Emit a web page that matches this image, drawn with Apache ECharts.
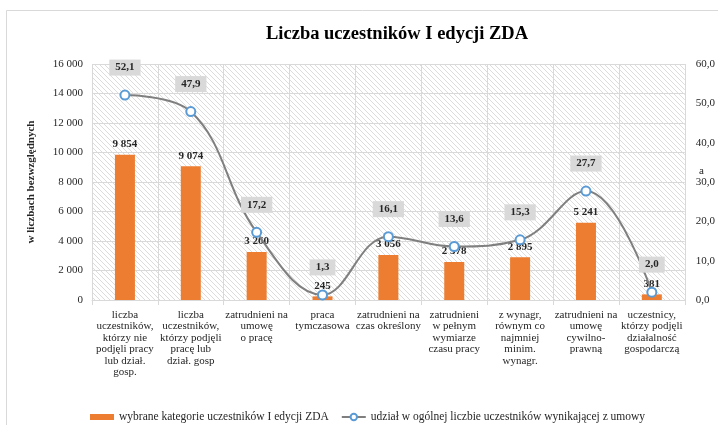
<!DOCTYPE html>
<html>
<head>
<meta charset="utf-8">
<script src="https://cdn.jsdelivr.net/npm/echarts@6/dist/echarts.min.js"></script>
<style>html,body{margin:0;padding:0;background:#fff;}#c{width:718px;height:425px;}</style>
</head>
<body>
<div id="c"></div>
<script>
var categories = [
  "liczba\nuczestników,\nktórzy nie\npodjęli pracy\nlub dział.\ngosp.",
  "liczba\nuczestników,\nktórzy podjęli\npracę lub\ndział. gosp",
  "zatrudnieni na\numowę\no pracę",
  "praca\ntymczasowa",
  "zatrudnieni na\nczas określony",
  "zatrudnieni\nw pełnym\nwymiarze\nczasu pracy",
  "z wynagr,\nrównym co\nnajmniej\nminim.\nwynagr.",
  "zatrudnieni na\numowę\ncywilno-\nprawną",
  "uczestnicy,\nktórzy podjęli\ndziałalność\ngospodarczą"
];
var counts = [9854, 9074, 3260, 245, 3056, 2578, 2895, 5241, 381];
var shares = [52.1, 47.9, 17.2, 1.3, 16.1, 13.6, 15.3, 27.7, 2.0];
var seriesNames = ["wybrane kategorie uczestników I edycji ZDA", "udział w ogólnej liczbie uczestników wynikającej z umowy"];
var titleText = "Liczba uczestników I edycji ZDA";
var leftAxisName = "w liczbach bezwzględnych";

function fmtThousands(v) {
  return String(Math.round(v)).replace(/\B(?=(\d{3})+(?!\d))/g, " ");
}
function fmtDec(v) {
  return Number(v).toFixed(1).replace(".", ",");
}

// hatch pattern
var pc = document.createElement("canvas");
pc.width = 5; pc.height = 5;
var pctx = pc.getContext("2d");
pctx.fillStyle = "#ffffff";
pctx.fillRect(0, 0, 5, 5);
pctx.strokeStyle = "#dcdcdc";
pctx.lineWidth = 1;
[-5, 0, 5].forEach(function (k) {
  pctx.beginPath();
  pctx.moveTo(k, 0);
  pctx.lineTo(k + 5, 5);
  pctx.stroke();
});

var FONT = "Liberation Serif";
var TXT = "#262626";

var chart = echarts.init(document.getElementById("c"), null, { renderer: "canvas" });
chart.setOption({
  animation: false,
  backgroundColor: "#ffffff",
  title: {
    text: titleText,
    left: 261,
    top: 20,
    textStyle: { fontFamily: FONT, fontWeight: "bold", fontSize: 18.5, color: "#000" }
  },
  graphic: [
    {
      type: "rect",
      z: -10,
      shape: { x: 6.5, y: 10.5, width: 740, height: 440 },
      style: { fill: "none", stroke: "#d9d9d9", lineWidth: 1 }
    },
    {
      type: "text",
      left: 699,
      top: 166,
      style: { text: "a", font: "11px " + FONT, fill: TXT }
    }
  ],
  legend: {
    left: 85,
    top: 406,
    itemGap: 12,
    itemWidth: 24,
    itemHeight: 8,
    textStyle: { fontFamily: FONT, fontSize: 11.5, color: TXT },
    data: [
      { name: seriesNames[0], icon: "path://M0,0 h24 v6 h-24z" },
      { name: seriesNames[1] }
    ]
  },
  grid: {
    left: 92,
    right: 30,
    top: 64,
    bottom: 125,
    show: true,
    borderWidth: 0,
    backgroundColor: { image: pc, repeat: "repeat" }
  },
  xAxis: {
    type: "category",
    data: categories,
    axisLine: { lineStyle: { color: "#d9d9d9", width: 1 } },
    axisTick: { show: true, length: 5, lineStyle: { color: "#d9d9d9" } },
    splitLine: { show: true, lineStyle: { color: "#d9d9d9", width: 1 } },
    axisLabel: {
      interval: 0,
      margin: 9,
      fontFamily: FONT,
      fontSize: 11,
      lineHeight: 11.5,
      color: TXT
    }
  },
  yAxis: [
    {
      type: "value",
      min: 0,
      max: 16000,
      interval: 2000,
      name: leftAxisName,
      nameLocation: "middle",
      nameGap: 55,
      nameRotate: 90,
      nameTextStyle: { fontFamily: FONT, fontSize: 11, fontWeight: "bold", color: TXT },
      axisLine: { show: false },
      axisTick: { show: false },
      splitLine: { show: true, lineStyle: { color: "#d9d9d9", width: 1 } },
      axisLabel: {
        margin: 9,
        fontFamily: FONT,
        fontSize: 11,
        color: TXT,
        formatter: function (v) { return fmtThousands(v); }
      }
    },
    {
      type: "value",
      min: 0,
      max: 60,
      interval: 10,
      position: "right",
      axisLine: { show: false },
      axisTick: { show: false },
      splitLine: { show: false },
      axisLabel: {
        margin: 11,
        fontFamily: FONT,
        fontSize: 11,
        color: TXT,
        formatter: function (v) { return fmtDec(v); }
      }
    }
  ],
  series: [
    {
      name: seriesNames[0],
      type: "bar",
      data: counts,
      barWidth: 20,
      itemStyle: { color: "#ED7D31" },
      label: {
        show: true,
        position: "top",
        distance: 5,
        fontFamily: FONT,
        fontSize: 11,
        fontWeight: "bold",
        color: TXT,
        formatter: function (p) { return fmtThousands(p.value); }
      },
      z: 2
    },
    {
      name: seriesNames[1],
      type: "line",
      yAxisIndex: 1,
      data: shares,
      smooth: 0.4,
      symbol: "circle",
      symbolSize: 9,
      lineStyle: { color: "#7f7f7f", width: 2 },
      itemStyle: { color: "#ffffff", borderColor: "#5B9BD5", borderWidth: 2 },
      label: {
        show: true,
        position: "top",
        distance: 14,
        backgroundColor: "#d9d9d9",
        padding: [2, 6],
        lineHeight: 12,
        fontFamily: FONT,
        fontSize: 11,
        fontWeight: "bold",
        color: TXT,
        formatter: function (p) { return fmtDec(p.value); }
      },
      z: 3
    }
  ]
});
</script>
</body>
</html>
